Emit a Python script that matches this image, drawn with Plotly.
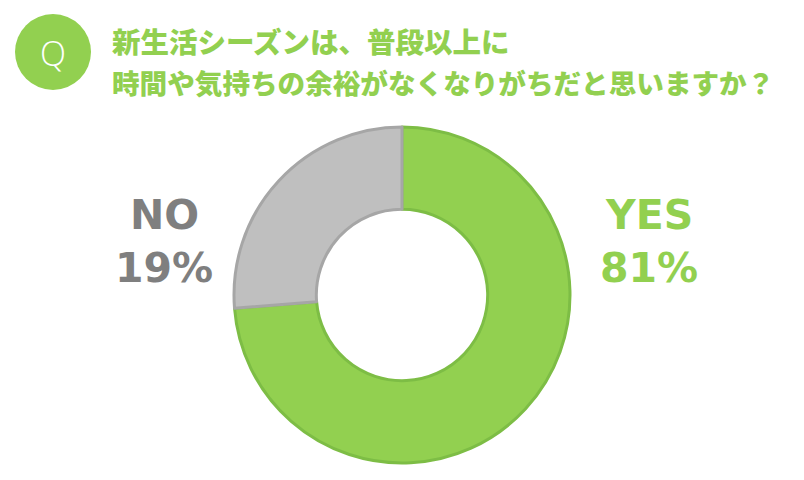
import plotly.graph_objects as go

# Data
categories = ["YES", "NO"]
label_pct = ["81%", "19%"]
# slice shares as drawn in the reference picture
slice_share = [73.75, 26.25]
title_lines = ["新生活シーズンは、普段以上に", "時間や気持ちの余裕がなくなりがちだと思いますか？"]

GREEN = "#92D050"
GREEN_EDGE = "#7DBD45"
GRAY = "#BFBFBF"
GRAY_EDGE = "#A6A6A6"
GRAY_TEXT = "#7F7F7F"

OFF = 8  # page body margin
W, H = 804 - OFF, 480 - OFF


def px(x):
    return (x - OFF) / W


def py(y):
    return 1 - (y - OFF) / H


cx, cy, r = 402, 295, 168

fig = go.Figure(go.Pie(
    labels=categories,
    values=slice_share,
    hole=0.51,
    sort=False,
    direction="clockwise",
    rotation=0,
    textinfo="none",
    hoverinfo="label",
    marker=dict(colors=[GREEN, GRAY], line=dict(color=[GREEN_EDGE, GRAY_EDGE], width=3)),
    domain=dict(x=[px(cx - r), px(cx + r)], y=[py(cy + r), py(cy - r)]),
    showlegend=False,
))

ann = []
for text, yc, fs in zip(title_lines, [40, 82], [28.5, 27.6]):
    ann.append(dict(x=px(110), y=py(yc), xref="paper", yref="paper", xanchor="left", yanchor="middle",
                    text=text, showarrow=False,
                    font=dict(family="Noto Sans CJK JP", size=fs, color=GREEN, weight=900)))
ann.append(dict(x=px(53), y=py(53), xref="paper", yref="paper", xanchor="center", yanchor="middle",
                text="Q", showarrow=False,
                font=dict(family="Open Sans", size=34, color="white", weight=300)))

label_pos = {"YES": (649, GREEN), "NO": (164, GRAY_TEXT)}
for cat, pct in zip(categories, label_pct):
    x, col = label_pos[cat]
    ann.append(dict(x=px(x), y=py(215), xref="paper", yref="paper", xanchor="center", yanchor="middle",
                    text="<b>" + cat + "</b>", showarrow=False,
                    font=dict(family="DejaVu Sans", size=41, color=col)))
    ann.append(dict(x=px(x), y=py(268), xref="paper", yref="paper", xanchor="center", yanchor="middle",
                    text="<b>" + pct + "</b>", showarrow=False,
                    font=dict(family="DejaVu Sans", size=41, color=col)))

fig.update_layout(
    width=W, height=H,
    margin=dict(l=0, r=0, t=0, b=0),
    paper_bgcolor="white", plot_bgcolor="white",
    annotations=ann,
    shapes=[dict(type="circle", xref="paper", yref="paper",
                 x0=px(15), x1=px(91), y0=py(90), y1=py(14),
                 fillcolor=GREEN, line=dict(width=0), layer="below")],
)

fig.write_html("out.html")
